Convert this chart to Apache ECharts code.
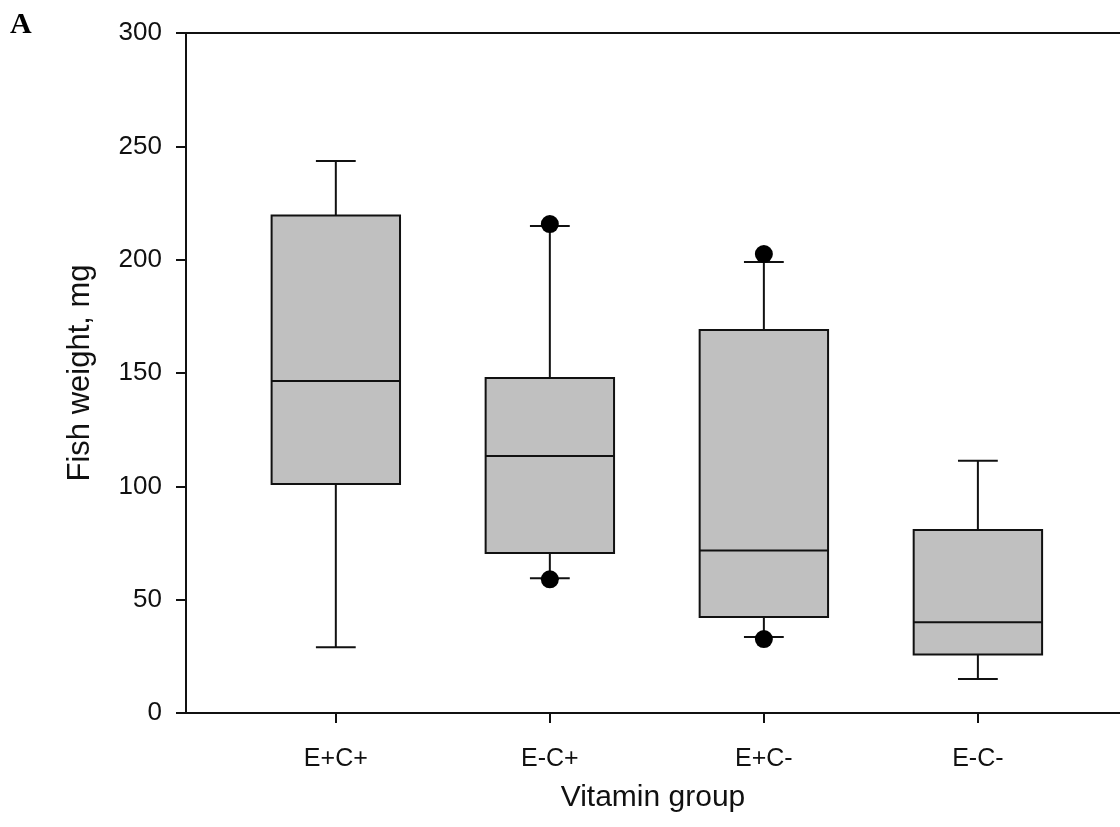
<!DOCTYPE html>
<html>
<head>
<meta charset="utf-8">
<script src="https://cdn.jsdelivr.net/npm/echarts@6/dist/echarts.min.js"></script>
<style>
html,body{margin:0;padding:0;background:#fff;}
#chart{width:1120px;height:827px;}
</style>
</head>
<body>
<div id="chart"></div>
<script>
const categories = ['E+C+', 'E-C+', 'E+C-', 'E-C-'];
const positions = [1, 2, 3, 4];
const whiskerLow = [29, 59.5, 33.5, 15];
const q1 = [101, 70.6, 42.3, 25.8];
const median = [146.5, 113.4, 71.7, 40];
const q3 = [219.5, 147.8, 169, 80.7];
const whiskerHigh = [243.5, 214.8, 199, 111.3];
const outlierX = [2, 2, 3, 3];
const outlierY = [215.7, 59, 202.5, 32.6];
const yTicks = [0, 50, 100, 150, 200, 250, 300];

const boxData = positions.map((p, i) => [p, whiskerLow[i], q1[i], median[i], q3[i], whiskerHigh[i]]);
const outlierData = outlierX.map((x, i) => [x, outlierY[i]]);

const chart = echarts.init(document.getElementById('chart'), null, {renderer: 'canvas'});
const BOX_HALF = 0.3, CAP_HALF = 0.093;
const X_MIN = 0.3, X_MAX = 4.664;
const lineStyle = {stroke: '#111', lineWidth: 2};

chart.setOption({
  backgroundColor: '#fff',
  animation: false,
  graphic: [{
    type: 'text', left: 10, top: 10,
    style: {text: 'A', font: 'bold 30px "Liberation Serif"', fill: '#000'}
  }],
  grid: {left: 186, right: 0, top: 33, height: 680, containLabel: false},
  xAxis: [{
    type: 'value', min: X_MIN, max: X_MAX, position: 'bottom',
    name: 'Vitamin group', nameLocation: 'middle', nameGap: 70,
    nameTextStyle: {fontFamily: 'Liberation Sans', fontSize: 30, color: '#111'},
    axisLine: {show: true, onZero: false, lineStyle: {color: '#111', width: 2}},
    axisTick: {show: true, customValues: positions, length: 10, inside: false, lineStyle: {color: '#111', width: 2}},
    axisLabel: {show: true, customValues: positions, margin: 34,
      fontFamily: 'Liberation Sans', fontSize: 25, color: '#111',
      formatter: v => categories[Math.round(v) - 1] || ''},
    splitLine: {show: false}
  }, {
    type: 'value', min: X_MIN, max: X_MAX, position: 'top',
    axisLine: {show: true, onZero: false, lineStyle: {color: '#111', width: 2}},
    axisTick: {show: false}, axisLabel: {show: false}, splitLine: {show: false}
  }],
  yAxis: {
    type: 'value', min: 0, max: 300, interval: 50,
    name: 'Fish weight, mg', nameLocation: 'middle', nameGap: 90,
    nameTextStyle: {fontFamily: 'Liberation Sans', fontSize: 31, color: '#111'},
    axisLine: {show: true, onZero: false, lineStyle: {color: '#111', width: 2}},
    axisTick: {show: true, length: 10, inside: false, lineStyle: {color: '#111', width: 2}},
    axisLabel: {margin: 24, fontFamily: 'Liberation Sans', fontSize: 26, color: '#111',
      formatter: v => yTicks.includes(v) ? String(v) : ''},
    splitLine: {show: false}
  },
  series: [{
    type: 'custom',
    xAxisIndex: 0, yAxisIndex: 0,
    data: boxData,
    renderItem: function (params, api) {
      const x = api.value(0);
      const lo = api.value(1), a = api.value(2), m = api.value(3), b = api.value(4), hi = api.value(5);
      const pL = api.coord([x - BOX_HALF, b]);
      const pR = api.coord([x + BOX_HALF, a]);
      const c = (xx, yy) => api.coord([xx, yy]);
      const children = [];
      children.push({type: 'line', shape: {x1: c(x, b)[0], y1: c(x, b)[1], x2: c(x, hi)[0], y2: c(x, hi)[1]}, style: lineStyle});
      children.push({type: 'line', shape: {x1: c(x, a)[0], y1: c(x, a)[1], x2: c(x, lo)[0], y2: c(x, lo)[1]}, style: lineStyle});
      children.push({type: 'line', shape: {x1: c(x - CAP_HALF, hi)[0], y1: c(x, hi)[1], x2: c(x + CAP_HALF, hi)[0], y2: c(x, hi)[1]}, style: lineStyle});
      children.push({type: 'line', shape: {x1: c(x - CAP_HALF, lo)[0], y1: c(x, lo)[1], x2: c(x + CAP_HALF, lo)[0], y2: c(x, lo)[1]}, style: lineStyle});
      children.push({type: 'rect', shape: {x: pL[0], y: pL[1], width: pR[0] - pL[0], height: pR[1] - pL[1]},
        style: {fill: '#c0c0c0', stroke: '#111', lineWidth: 2}});
      children.push({type: 'line', shape: {x1: c(x - BOX_HALF, m)[0], y1: c(x, m)[1], x2: c(x + BOX_HALF, m)[0], y2: c(x, m)[1]}, style: lineStyle});
      return {type: 'group', children: children};
    },
    z: 2
  }, {
    type: 'scatter',
    xAxisIndex: 0, yAxisIndex: 0,
    data: outlierData,
    symbol: 'circle', symbolSize: 18,
    itemStyle: {color: '#000', opacity: 1},
    z: 3
  }]
});
</script>
</body>
</html>
